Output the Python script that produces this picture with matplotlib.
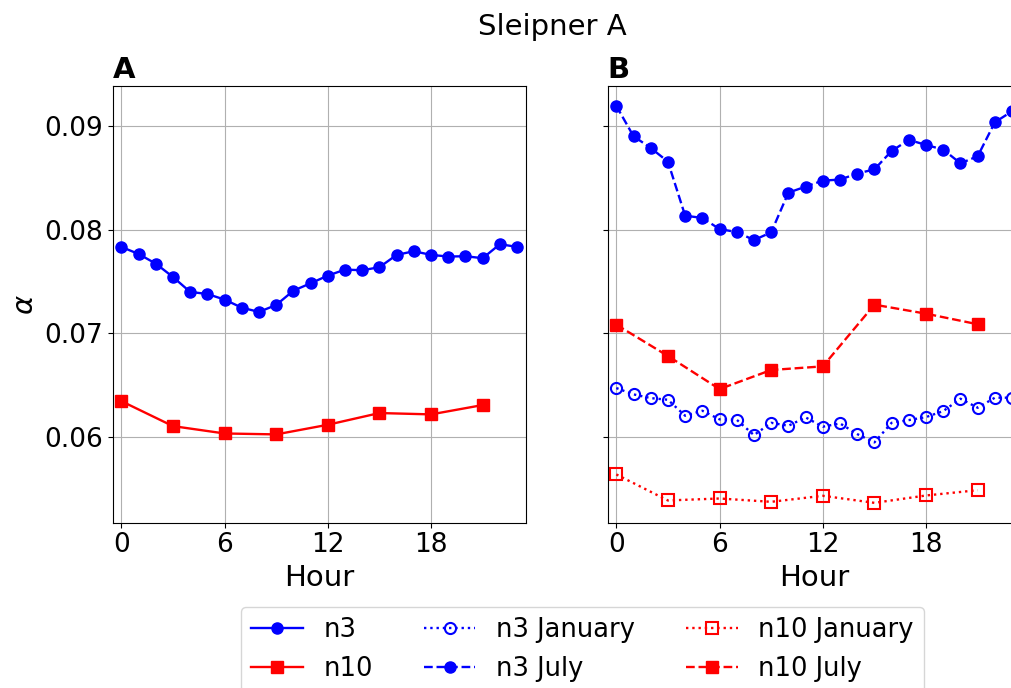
import numpy as np
import matplotlib
matplotlib.use("Agg")
import matplotlib.pyplot as plt

# --- data ---
hours = list(range(24))
hours_n10 = [0, 3, 6, 9, 12, 15, 18, 21]

n3_all = [0.07834, 0.07766, 0.07673, 0.07544, 0.07400, 0.07380, 0.07326, 0.07248,
          0.07207, 0.07274, 0.07412, 0.07483, 0.07557, 0.07615, 0.07609, 0.07638,
          0.07757, 0.07792, 0.07757, 0.07741, 0.07744, 0.07725, 0.07860, 0.07834]
n10_all = [0.06347, 0.06106, 0.06035, 0.06026, 0.06119, 0.06232, 0.06219, 0.06309]

n3_jan = [0.06473, 0.06412, 0.06376, 0.06360, 0.06206, 0.06254, 0.06171, 0.06167,
          0.06019, 0.06138, 0.06109, 0.06190, 0.06100, 0.06132, 0.06029, 0.05949,
          0.06138, 0.06164, 0.06193, 0.06251, 0.06370, 0.06283, 0.06380, 0.06380]
n3_jul = [0.09194, 0.08901, 0.08788, 0.08656, 0.08135, 0.08113, 0.08006, 0.07977,
          0.07900, 0.07974, 0.08357, 0.08415, 0.08473, 0.08483, 0.08541, 0.08582,
          0.08759, 0.08866, 0.08817, 0.08772, 0.08640, 0.08708, 0.09036, 0.09142]
n10_jan = [0.05640, 0.05389, 0.05408, 0.05376, 0.05434, 0.05366, 0.05437, 0.05488]
n10_jul = [0.07084, 0.06782, 0.06463, 0.06647, 0.06682, 0.07277, 0.07190, 0.07088]

xticks = [0, 6, 12, 18]

W, H = 1011, 688
fig = plt.figure(figsize=(W / 100, H / 100), dpi=100)

# axes placed in pixel terms (B runs past the right edge, as in the reference)
ax_a = fig.add_axes([112.7 / W, 1 - 522.7 / H, 413 / W, 436.7 / H])
ax_b = fig.add_axes([607.7 / W, 1 - 522.7 / H, 413 / W, 436.7 / H], sharey=ax_a)

lw = 1.7
ms = 8

h1, = ax_a.plot(hours, n3_all, color='blue', marker='o', ms=ms, lw=lw, label='n3')
h2, = ax_a.plot(hours_n10, n10_all, color='red', marker='s', ms=ms, lw=lw, label='n10')

h3, = ax_b.plot(hours, n3_jan, color='blue', marker='o', ms=ms, lw=lw, ls=':',
                mfc='none', mew=1.5, label='n3 January')
h4, = ax_b.plot(hours, n3_jul, color='blue', marker='o', ms=ms, lw=lw, ls='--',
                label='n3 July')
h5, = ax_b.plot(hours_n10, n10_jan, color='red', marker='s', ms=ms, lw=lw, ls=':',
                mfc='none', mew=1.5, label='n10 January')
h6, = ax_b.plot(hours_n10, n10_jul, color='red', marker='s', ms=ms, lw=lw, ls='--',
                label='n10 July')

for ax, letter in [(ax_a, 'A'), (ax_b, 'B')]:
    ax.set_xlim(-0.5, 23.5)
    ax.set_xticks(xticks)
    ax.grid(True)
    ax.set_axisbelow(True)
    ax.tick_params(labelsize=19)
    ax.set_xlabel('Hour', fontsize=21)
    ax.set_title(letter, loc='left', fontweight='bold', fontsize=21)

ax_a.set_yticks([0.06, 0.07, 0.08, 0.09])
ax_a.set_ylabel(r'$\alpha$', fontsize=21)
ax_b.tick_params(labelleft=False)

fig.suptitle('Sleipner A', x=552.5 / W, y=1 - 13 / H, va='top', fontsize=21)

fig.legend(handles=[h1, h2, h3, h4, h5, h6], ncol=3, loc='upper center',
           bbox_to_anchor=(582.5 / W, 1 - 606.7 / H), borderaxespad=0,
           fontsize=18.5)

fig.savefig('out.png', dpi=100)
